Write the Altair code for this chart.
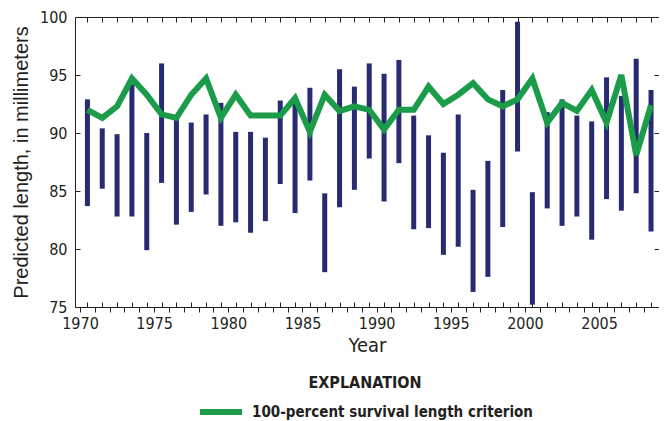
import altair as alt
import pandas as pd

years = list(range(1970, 2009))
low = [83.7, 85.2, 82.8, 82.8, 79.9, 85.7, 82.1, 83.2, 84.7, 82.0,
       82.3, 81.4, 82.4, 85.6, 83.1, 85.9, 78.0, 83.6, 85.1, 87.8,
       84.1, 87.4, 81.7, 81.8, 79.5, 80.2, 76.3, 77.6, 81.9, 88.4,
       75.2, 83.5, 82.0, 82.8, 80.8, 84.3, 83.3, 84.8, 81.5]
high = [92.9, 90.4, 89.9, 94.2, 90.0, 96.0, 91.3, 90.9, 91.6, 92.6,
        90.1, 90.1, 89.6, 92.8, 92.7, 93.9, 84.8, 95.5, 94.0, 96.0,
        95.1, 96.3, 91.5, 89.8, 88.3, 91.6, 85.1, 87.6, 93.7, 99.6,
        84.9, 91.8, 92.9, 91.5, 91.0, 94.8, 93.2, 96.4, 93.7]
criterion = [92.0, 91.3, 92.3, 94.7, 93.3, 91.6, 91.3, 93.3, 94.7, 91.3,
             93.3, 91.5, 91.5, 91.5, 93.0, 90.1, 93.3, 91.9, 92.3, 92.0,
             90.3, 92.0, 92.0, 94.0, 92.5, 93.3, 94.3, 92.9, 92.3, 92.9,
             94.7, 90.9, 92.6, 91.9, 93.7, 90.9, 95.0, 88.1, 92.4]
series_name = "100-percent survival length criterion"

df = pd.DataFrame({"year": years, "low": low, "high": high, "crit": criterion})
df["pos"] = df["year"] + 0.5
df["series"] = series_name

W, H = 584, 290
FONT = "DejaVu Sans Condensed, Liberation Sans Narrow, sans-serif"
INK = "#231f20"
xdom = [1970, 2008.7]
xscale = alt.Scale(domain=xdom, nice=False, zero=False)
yscale = alt.Scale(domain=[75, 100], nice=False, zero=False)
half_years = [y + 0.5 for y in years]
yticks = [75, 80, 85, 90, 95, 100]

base = alt.Chart(df)

bars = base.mark_bar(size=5, color="#282b71").encode(
    x=alt.X("pos:Q", scale=xscale, axis=alt.Axis(
        orient="bottom", values=years, format="d",
        labelExpr="datum.value % 5 == 0 ? datum.label : ''",
        labelOverlap=False, labelFlush=False, tickSize=5, tickColor=INK,
        domainColor=INK, labelFont=FONT, labelFontSize=16, labelColor=INK,
        labelPadding=3, title="Year", titleFont=FONT, titleFontSize=20,
        titleFontWeight="normal", titleColor=INK, titlePadding=4, grid=False)),
    y=alt.Y("low:Q", scale=yscale, axis=alt.Axis(
        orient="left", values=yticks, ticks=False, domainColor=INK,
        labelFont=FONT, labelFontSize=16, labelColor=INK, labelPadding=8,
        title="Predicted length, in millimeters", titleFont="Liberation Sans, sans-serif",
        titleFontSize=20, titleFontWeight="normal", titleColor=INK, titlePadding=8,
        grid=False)),
    y2="high:Q",
)

line = base.mark_line(strokeWidth=6).encode(
    x=alt.X("pos:Q", scale=xscale, axis=alt.Axis(
        orient="top", offset=-H, values=half_years, labels=False, domain=False,
        tickSize=5, tickColor=INK, title=None, grid=False)),
    y=alt.Y("crit:Q", scale=yscale, axis=alt.Axis(
        orient="right", offset=-W, values=yticks, labels=False, domain=False,
        tickSize=5, tickColor=INK, title=None, grid=False)),
    color=alt.Color("series:N", scale=alt.Scale(range=["#1a9c49"]), legend=alt.Legend(
        orient="none", legendX=122, legendY=358, padding=0,
        title="EXPLANATION", titleFont=FONT, titleFontSize=16, titleFontWeight="bold",
        titleColor=INK, titleAnchor="middle", titleAlign="center", titlePadding=-3,
        symbolType="stroke", symbolSize=1764, symbolStrokeWidth=6,
        labelFont=FONT, labelFontSize=15, labelFontWeight="bold", labelColor=INK,
        labelOffset=7, labelLimit=400)),
)

frame = base.mark_point(opacity=0).encode(
    x=alt.X("pos:Q", scale=xscale, axis=alt.Axis(
        orient="bottom", offset=-H, values=half_years, labels=False, domainColor=INK,
        tickSize=5, tickColor=INK, title=None, grid=False)),
    y=alt.Y("crit:Q", scale=yscale, axis=alt.Axis(
        orient="left", offset=-W, values=yticks, labels=False, domain=False,
        tickSize=5, tickColor=INK, title=None, grid=False)),
)

chart = alt.layer(bars, line, frame).resolve_axis(
    x="independent", y="independent"
).properties(
    width=W, height=H,
    autosize=alt.AutoSizeParams(type="none"),
    padding={"left": 67, "top": 9, "right": 0, "bottom": 114},
    background="white",
).configure_view(strokeWidth=0)

chart.save("out.html", embed_options={"renderer": "svg", "actions": False})
